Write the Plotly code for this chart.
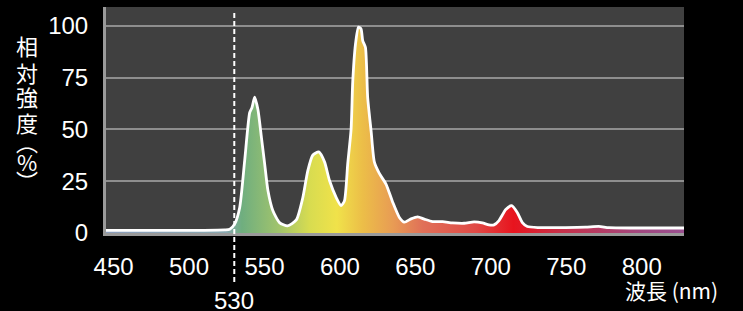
import plotly.graph_objects as go

wavelength = [445, 480, 510, 523.7, 527, 530.3, 533.6, 536.9, 540.2, 541.7, 543.5, 545.7, 548, 550.1,
              552.3, 555.6, 560, 565.3, 571.1, 575.4, 578.7, 582, 586, 589.8, 593.1, 597.5, 600.8,
              603, 605.2, 607.4, 608.5, 610.3, 612.3, 614, 615.1, 616.9, 618.4, 620.7, 622.8, 626.2,
              630.6, 634.9, 639.4, 642.7, 647.1, 651.5, 655.9, 661.4, 668, 674.6, 682.3, 688.9,
              694.4, 698.8, 702.1, 705.4, 709.9, 713.8, 717.5, 720.9, 724.2, 731.9, 749.5, 762.7,
              771.5, 778.2, 793.4, 828]
intensity = [1.3, 1.3, 1.3, 1.5, 1.8, 4.4, 12.3, 35, 58, 60.4, 65.5, 59.4, 46, 33.6,
             20.5, 10.7, 5, 3.4, 6.3, 17, 30, 37.5, 39.1, 34.3, 25.3, 17.2, 13.2,
             15.5, 33.6, 50, 73, 91, 99.3, 98.4, 92.8, 89.6, 65.3, 48.9, 34.3, 28.6,
             23.5, 15, 7.5, 5.2, 6.8, 7.8, 6.7, 5.5, 5.5, 4.9, 4.7, 5.4,
             4.9, 3.9, 3.9, 6, 11.3, 13.2, 9.9, 5, 3.1, 2.6, 2.6, 2.8,
             3.2, 2.6, 2.4, 2.4]

x_ticks = [450, 500, 550, 600, 650, 700, 750, 800]
y_ticks = [0, 25, 50, 75, 100]
marker_nm = 530
y_title_chars = ["相", "対", "強", "度", "︵", "%", "︶"]
x_title = "波長 (nm)"

x_min, x_max = 445, 828

def frac(nm):
    return (nm - x_min) / (x_max - x_min)

grad_stops = [(445, "#8c9ebc"), (525, "#88a8b0"), (535, "#6fae7f"), (560, "#a2c46c"),
              (580, "#d8dc50"), (598, "#f0e24a"), (615, "#ecbe48"), (635, "#e89c54"),
              (655, "#e07058"), (690, "#e04a46"), (715, "#e8141e"), (745, "#c83048"),
              (800, "#a04880"), (828, "#9a5090")]
colorscale = [[frac(n), c] for n, c in grad_stops]

fig = go.Figure()
fig.add_trace(go.Scatter(
    x=wavelength, y=intensity, mode="lines",
    line=dict(color="white", width=2.8, shape="spline", smoothing=0.6),
    fill="tozeroy",
    fillgradient=dict(type="horizontal", colorscale=colorscale, start=x_min, stop=x_max),
    hoverinfo="skip", showlegend=False,
))

fig.add_shape(type="line", x0=marker_nm, x1=marker_nm, xref="x", yref="paper",
              y0=-0.217, y1=0.978, line=dict(color="white", width=2, dash="5px,3px"))

tick_font = dict(family="Liberation Sans, Arial, sans-serif", size=24, color="white")
cjk_font = dict(family="Noto Sans CJK JP, sans-serif", size=22, color="white")

fig.add_annotation(x=marker_nm, xref="x", y=-0.30, yref="paper", text=str(marker_nm),
                   showarrow=False, font=tick_font, xanchor="center", yanchor="middle")
fig.add_annotation(x=0.979, xref="paper", y=-0.252, yref="paper", text=x_title,
                   showarrow=False, font=dict(family="Noto Sans CJK JP, sans-serif", size=21, color="white"),
                   xanchor="center", yanchor="middle")

char_y = [0.832, 0.712, 0.606, 0.491, 0.407, 0.319, 0.235]
for ch, yy in zip(y_title_chars, char_y):
    fig.add_annotation(x=-0.136, xref="paper", y=yy, yref="paper", text=ch, showarrow=False,
                       font=cjk_font, xanchor="center", yanchor="middle")

fig.update_xaxes(range=[x_min, x_max], tickvals=x_ticks, ticktext=[str(v) for v in x_ticks],
                 showgrid=False, zeroline=False, showline=True, linecolor="#9a9a9a", linewidth=3,
                 tickfont=tick_font, ticks="", ticklabelstandoff=10)
fig.update_yaxes(range=[0, 109], tickvals=y_ticks, ticktext=[str(v) for v in y_ticks],
                 showgrid=True, gridcolor="#8e8e8e", gridwidth=1.5, zeroline=False,
                 showline=True, linecolor="#9a9a9a", linewidth=3,
                 tickfont=tick_font, ticks="", ticklabelstandoff=10)

fig.update_layout(
    width=743, height=311,
    margin=dict(l=106, r=59, t=7, b=78),
    paper_bgcolor="black", plot_bgcolor="#404040",
    showlegend=False,
)

fig.write_html("out.html", config={"displayModeBar": False},
               post_script="document.body.style.margin='0';document.body.style.background='black';document.body.style.overflow='hidden';")
